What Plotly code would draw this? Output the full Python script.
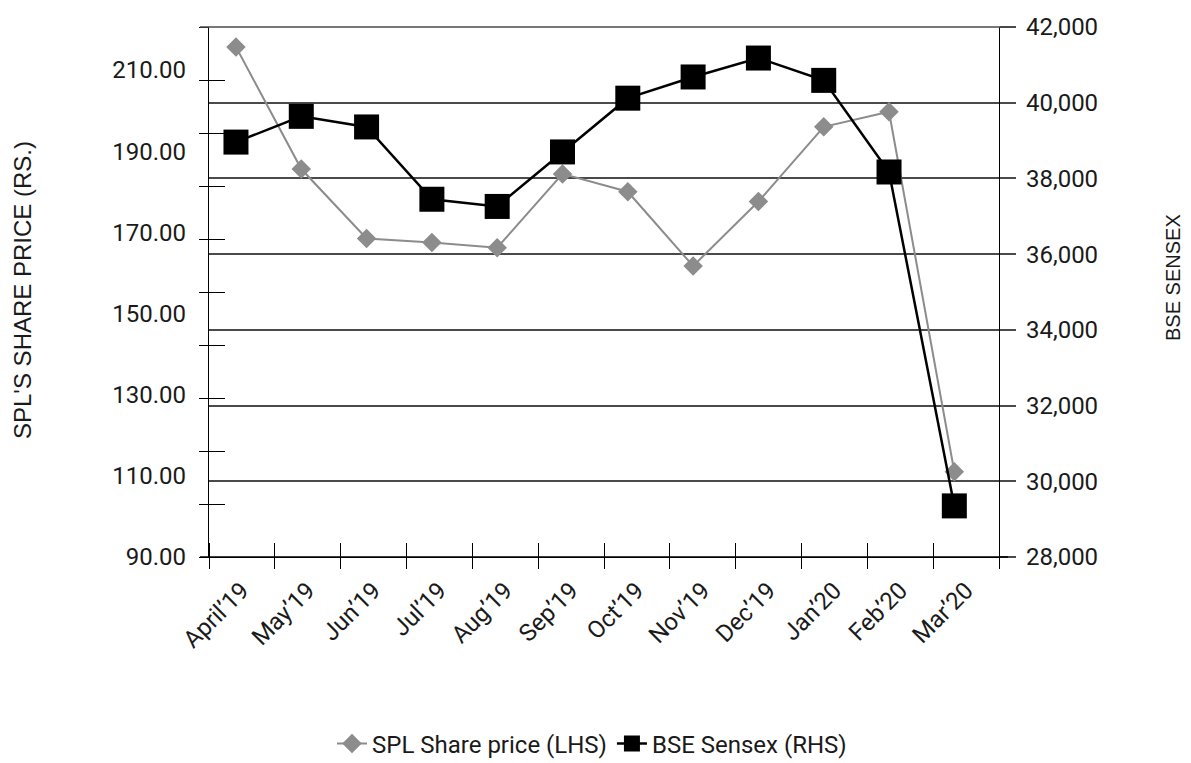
import numpy as np
import plotly.graph_objects as go

# ---------------- data ----------------
months = ["April’19", "May’19", "Jun’19", "Jul’19", "Aug’19", "Sep’19",
          "Oct’19", "Nov’19", "Dec’19", "Jan’20", "Feb’20", "Mar’20"]
spl_price = [215.7, 185.6, 168.5, 167.5, 166.2, 184.4, 180.0, 161.7, 177.6, 196.0, 199.7, 111.0]
bse_sensex = [38960, 39640, 39360, 37450, 37260, 38700, 40120, 40680, 41180, 40590, 38170, 29350]
left_tick_vals = [90, 110, 130, 150, 170, 190, 210]
right_tick_vals = [28000, 30000, 32000, 34000, 36000, 38000, 40000, 42000]

# ---------------- layout constants ----------------
OFF = 8                                        # page margin of the html body
W, H = 1191 - OFF, 763 - OFF
PL, PR, PT, PB = 209 - OFF, 999 - OFF, 27 - OFF, 557 - OFF   # plot area in px
LEFT_RANGE = [90, 220.6]
RIGHT_RANGE = [28000, 42000]
X_RANGE = [-0.413, 11.684]
CAT_RANGE = [-0.5, 11.5]
pw, ph = PR - PL, PB - PT

idx = list(range(len(months)))
boundaries = [i - 0.5 for i in range(len(months) + 1)]
left_marks = list(np.linspace(LEFT_RANGE[0], LEFT_RANGE[1] - 1e-6, 11))

TICK_FONT = dict(family="Roboto", size=24, color="#1a1a1a")
GRID = "#4a4a4a"

fig = go.Figure()
fig.add_trace(go.Scatter(
    x=idx, y=spl_price, name="SPL Share price (LHS)", mode="lines+markers",
    line=dict(color="#8c8c8c", width=2),
    marker=dict(symbol="diamond", size=15, color="#8c8c8c"),
    xaxis="x", yaxis="y"))
fig.add_trace(go.Scatter(
    x=idx, y=bse_sensex, name="BSE Sensex (RHS)", mode="lines+markers",
    line=dict(color="black", width=2.5),
    marker=dict(symbol="square", size=25, color="black"),
    xaxis="x", yaxis="y2"))
# empty helper traces so the decorative overlay axes get drawn
for xa, ya in (("x3", "y"), ("x4", "y"), ("x", "y3")):
    fig.add_trace(go.Scatter(x=[None], y=[None], xaxis=xa, yaxis=ya,
                             showlegend=False, hoverinfo="skip", mode="lines"))

fig.update_layout(
    width=W, height=H,
    margin=dict(l=PL, r=W - PR, t=PT, b=H - PB, autoexpand=False),
    paper_bgcolor="white", plot_bgcolor="white",
    font=TICK_FONT,
    xaxis=dict(range=X_RANGE, showticklabels=False, ticks="", showgrid=False,
               zeroline=False, showline=True, linecolor="black", linewidth=1.3,
               anchor="y", automargin=False),
    xaxis3=dict(overlaying="x", anchor="y", range=CAT_RANGE, tickmode="array",
                tickvals=idx, ticktext=months, tickangle=-45, ticks="outside",
                ticklen=9, tickcolor="rgba(0,0,0,0)", showline=False,
                showgrid=False, zeroline=False, tickfont=TICK_FONT, automargin=False,
                minor=dict(tickmode="array", tickvals=boundaries, ticks="inside",
                           ticklen=14, tickcolor="black", tickwidth=1.3,
                           showgrid=False)),
    xaxis4=dict(overlaying="x", anchor="y", range=CAT_RANGE, tickmode="array",
                tickvals=boundaries, ticks="outside", ticklen=11,
                tickcolor="black", tickwidth=1.3, showticklabels=False,
                showline=False, showgrid=False, zeroline=False, automargin=False),
    yaxis=dict(range=LEFT_RANGE, tickmode="array", tickvals=left_tick_vals,
               tickformat=".2f", ticks="outside", ticklen=17,
               tickcolor="rgba(0,0,0,0)", showline=True, linecolor="black",
               linewidth=1.3, showgrid=False, zeroline=False, tickfont=TICK_FONT,
               automargin=False,
               minor=dict(tickmode="array", tickvals=left_marks, ticks="outside",
                          ticklen=9, tickcolor="black", tickwidth=1.3,
                          showgrid=False)),
    yaxis3=dict(overlaying="y", side="left", anchor="x", range=LEFT_RANGE,
                tickmode="array", tickvals=left_marks, ticks="inside",
                ticklen=16, tickcolor="black", tickwidth=1.3,
                showticklabels=False, showline=False, showgrid=False,
                zeroline=False, automargin=False),
    yaxis2=dict(overlaying="y", side="right", anchor="x", range=RIGHT_RANGE,
                tickmode="array", tickvals=right_tick_vals, tickformat=",",
                ticks="outside", ticklen=16, tickcolor=GRID, tickwidth=1.5,
                ticklabelstandoff=5,
                showgrid=True, gridcolor=GRID, gridwidth=1.5,
                showline=True, linecolor="black", linewidth=1.3,
                zeroline=False, tickfont=TICK_FONT, automargin=False),
    legend=dict(orientation="h", x=(592 - OFF - PL) / pw, xanchor="center",
                y=-(744 - OFF - PB) / ph, yanchor="middle",
                font=dict(family="Roboto", size=24, color="#1a1a1a"),
                bgcolor="rgba(0,0,0,0)"),
    showlegend=True,
)

# frame line extensions (top and bottom)
for yy in (0, 1):
    fig.add_shape(type="line", xref="paper", yref="paper",
                  x0=-9 / pw, x1=1 + 9 / pw, y0=yy, y1=yy,
                  line=dict(color="black" if yy == 0 else GRID, width=1.3))

fig.add_annotation(text="SPL'S SHARE PRICE (RS.)", textangle=-90, showarrow=False,
                   xref="paper", yref="paper", x=(22 - OFF - PL) / pw,
                   y=(PB - (290 - OFF)) / ph, xanchor="center", yanchor="middle",
                   font=dict(family="Liberation Sans", size=24, color="#1a1a1a"))
fig.add_annotation(text="BSE SENSEX", textangle=-90, showarrow=False,
                   xref="paper", yref="paper", x=(1173 - OFF - PL) / pw,
                   y=(PB - (278 - OFF)) / ph, xanchor="center", yanchor="middle",
                   font=dict(family="Liberation Sans", size=20, color="#1a1a1a"))

fig.write_html("out.html")
